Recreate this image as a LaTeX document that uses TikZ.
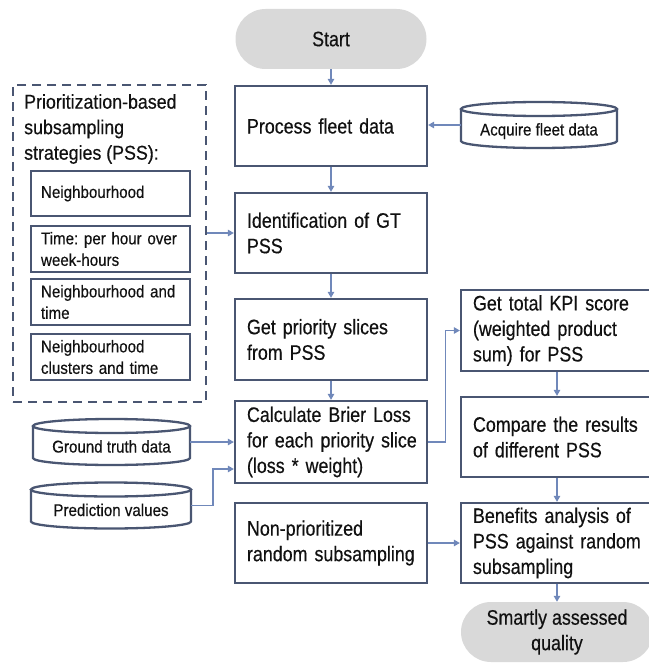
\documentclass[tikz,border=0pt]{standalone}
\usepackage{fontspec}
\setmainfont{Liberation Sans}[FakeStretch=0.85,FakeBold=0.4]
\newfontfamily\narrowsmall{Liberation Sans}[FakeStretch=0.89,FakeBold=0.4]
\usetikzlibrary{arrows.meta}
\definecolor{bord}{HTML}{4A5672}
\definecolor{arr}{HTML}{7088BA}
\definecolor{pillgray}{HTML}{D9D9D9}
\definecolor{txt}{HTML}{111111}
\newcommand\cylout[3]{%
  \draw[draw=bord,line width=2.3pt]
    ([yshift=-#3]#1.north west) -- ([yshift=#3]#1.south west)
    arc[start angle=180,end angle=360,x radius=#2,y radius=#3]
    -- ([yshift=-#3]#1.north east);
  \draw[draw=bord,line width=2.3pt] ([yshift=-#3]#1.north) ellipse[x radius=#2,y radius=#3];}
\frenchspacing
\begin{document}
\begin{tikzpicture}[x=1pt,y=1pt,
  every node/.style={text=txt},
  bigbox/.style={draw=bord, line width=2.3pt, fill=white, minimum width=192pt,
    minimum height=80pt, text width=168pt, align=left, inner xsep=12pt,
    font=\fontsize{21}{25.5}\selectfont},
  smallbox/.style={draw=bord, line width=2.3pt, fill=white, minimum width=159pt,
    minimum height=46pt, text width=139pt, align=left, inner xsep=10pt,
    font=\narrowsmall\fontsize{17}{21.5}\selectfont},
  pillnode/.style={fill=pillgray, rounded corners=30pt, minimum width=191pt,
    minimum height=60pt, align=center, font=\fontsize{21}{25.5}\selectfont},
  cylnode/.style={draw=none, inner sep=0pt, outer sep=0pt, minimum height=46pt,
    text height=25pt, text depth=4pt, font=\narrowsmall\fontsize{17}{21}\selectfont},
  conn/.style={draw=arr, line width=1.3pt, -{Triangle[length=6pt,width=6.5pt]}},
]
\useasboundingbox (0,0) rectangle (648,-663);

% main column
\node[pillnode] (start) at (331,-39) {Start};
\node[bigbox] (proc) at (331,-126) {Process fleet data};
\node[bigbox] (ident) at (331,-233) {Identification of GT\\PSS};
\node[bigbox, minimum height=81pt] (prio) at (331,-339.5) {Get priority slices\\from PSS};
\node[bigbox, minimum height=82pt] (calc) at (331,-442) {Calculate Brier Loss\\\mbox{for each priority slice}\\(loss * weight)};
\node[bigbox] (non) at (331,-543) {Non-prioritized\\\mbox{random subsampling}};

% right column
\node[bigbox, minimum height=81pt] (kpi) at (557,-330.5) {Get total KPI score\\(weighted product\\sum) for PSS};
\node[bigbox] (comp) at (557,-437) {Compare the results\\of different PSS};
\node[bigbox] (ben) at (557,-543) {Benefits analysis of\\\mbox{PSS against random}\\subsampling};
\node[pillnode, minimum width=192pt] (smart) at (557,-632) {Smartly assessed\\quality};

% cylinders
\node[cylnode, minimum width=156pt] (acq) at (539,-125) {Acquire fleet data};
\cylout{acq}{78pt}{7pt}
\node[cylnode, minimum width=157pt] (gt) at (111.5,-442) {Ground truth data};
\cylout{gt}{78.5pt}{7pt}
\node[cylnode, minimum width=160pt] (pred) at (111,-505.5) {Prediction values};
\cylout{pred}{80pt}{7pt}

% PSS group
\node[draw=bord, line width=2.4pt, dash pattern=on 9pt off 6pt,
  minimum width=193pt, minimum height=317pt] (pss) at (109.5,-243.5) {};
\node[anchor=west, align=left, inner sep=0pt, font=\narrowsmall\fontsize{20}{25.5}\selectfont]
  (psstitle) at (24,-129) {Prioritization-based\\subsampling\\strategies (PSS):};
\node[smallbox, minimum height=45pt] (n1) at (110.5,-193.5) {Neighbourhood};
\node[smallbox] (n2) at (110.5,-249) {Time: per hour over\\week-hours};
\node[smallbox] (n3) at (110.5,-302) {Neighbourhood and\\time};
\node[smallbox] (n4) at (110.5,-357) {Neighbourhood\\clusters and time};

% connectors
\draw[conn] (start) -- (proc);
\draw[conn] (acq.west) -- (acq.west -| proc.east);
\draw[conn] (proc) -- (ident);
\draw[conn] (ident.west -| pss.east) -- (ident.west);
\draw[conn] (ident) -- (prio);
\draw[conn] (prio) -- (calc);
\draw[conn] (gt.east) -- (gt.east -| calc.west);
\draw[conn] (pred.east) -- ++(22,0) |- ([yshift=-27pt]calc.west);
\draw[conn] (calc.east) -- ++(17,0) |- (kpi.west);
\draw[conn] (kpi) -- (comp);
\draw[conn] (comp) -- (ben);
\draw[conn] (non) -- (ben);
\draw[conn] (ben) -- (smart);
\end{tikzpicture}
\end{document}
